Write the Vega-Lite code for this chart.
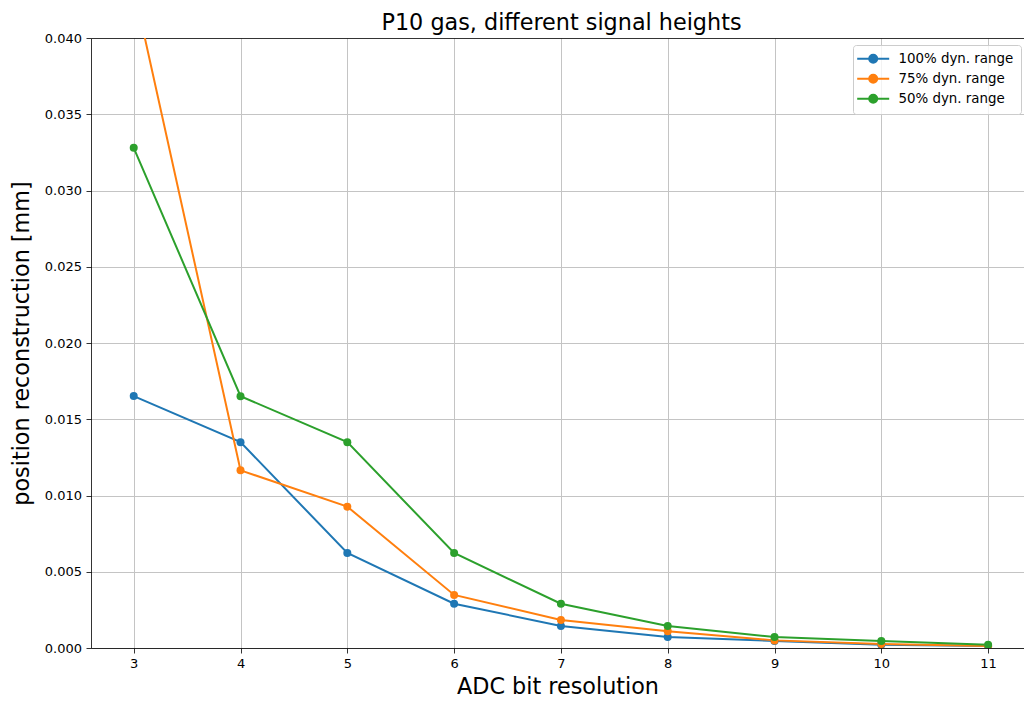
{
  "$schema": "https://vega.github.io/schema/vega-lite/v6.json",
  "width": 933,
  "height": 610,
  "autosize": {"type": "none"},
  "padding": {"left": 91, "top": 38, "right": 0, "bottom": 54},
  "background": "white",
  "config": {
    "font": "DejaVu Sans",
    "view": {"stroke": null},
    "axis": {
      "labelFont": "DejaVu Sans",
      "labelFontSize": 13,
      "labelColor": "black",
      "titleFont": "DejaVu Sans",
      "titleFontSize": 22.3,
      "titleFontWeight": "normal",
      "titleColor": "black",
      "domainColor": "black",
      "domainWidth": 0.8,
      "tickColor": "black",
      "tickWidth": 0.8,
      "tickSize": 5,
      "labelPadding": 4.5,
      "gridColor": "#c4c4c4",
      "gridWidth": 1
    }
  },
  "title": {
    "text": "P10 gas, different signal heights",
    "fontSize": 22.3,
    "fontWeight": "normal",
    "font": "DejaVu Sans",
    "color": "black",
    "baseline": "alphabetic",
    "offset": -20,
    "dx": 4
  },
  "data": {
    "values": [
      {"bits": 3, "series": "100% dyn. range", "value": 0.01652},
      {"bits": 4, "series": "100% dyn. range", "value": 0.01350},
      {"bits": 5, "series": "100% dyn. range", "value": 0.00623},
      {"bits": 6, "series": "100% dyn. range", "value": 0.00290},
      {"bits": 7, "series": "100% dyn. range", "value": 0.00145},
      {"bits": 8, "series": "100% dyn. range", "value": 0.00072},
      {"bits": 9, "series": "100% dyn. range", "value": 0.00046},
      {"bits": 10, "series": "100% dyn. range", "value": 0.00021},
      {"bits": 11, "series": "100% dyn. range", "value": 0.00013},
      {"bits": 3, "series": "75% dyn. range", "value": 0.04330},
      {"bits": 4, "series": "75% dyn. range", "value": 0.01165},
      {"bits": 5, "series": "75% dyn. range", "value": 0.00927},
      {"bits": 6, "series": "75% dyn. range", "value": 0.00348},
      {"bits": 7, "series": "75% dyn. range", "value": 0.00184},
      {"bits": 8, "series": "75% dyn. range", "value": 0.00110},
      {"bits": 9, "series": "75% dyn. range", "value": 0.00050},
      {"bits": 10, "series": "75% dyn. range", "value": 0.00026},
      {"bits": 11, "series": "75% dyn. range", "value": 0.00013},
      {"bits": 3, "series": "50% dyn. range", "value": 0.03280},
      {"bits": 4, "series": "50% dyn. range", "value": 0.01651},
      {"bits": 5, "series": "50% dyn. range", "value": 0.01350},
      {"bits": 6, "series": "50% dyn. range", "value": 0.00623},
      {"bits": 7, "series": "50% dyn. range", "value": 0.00290},
      {"bits": 8, "series": "50% dyn. range", "value": 0.00145},
      {"bits": 9, "series": "50% dyn. range", "value": 0.00072},
      {"bits": 10, "series": "50% dyn. range", "value": 0.00046},
      {"bits": 11, "series": "50% dyn. range", "value": 0.00021}
    ]
  },
  "encoding": {
    "x": {
      "field": "bits",
      "type": "quantitative",
      "scale": {"domain": [2.6, 11.336], "nice": false, "zero": false},
      "axis": {
        "title": "ADC bit resolution",
        "values": [3, 4, 5, 6, 7, 8, 9, 10, 11],
        "format": "d",
        "titlePadding": 5
      }
    },
    "y": {
      "field": "value",
      "type": "quantitative",
      "scale": {"domain": [0, 0.04], "nice": false},
      "axis": {
        "title": "position reconstruction [mm]",
        "values": [0, 0.005, 0.01, 0.015, 0.02, 0.025, 0.03, 0.035, 0.04],
        "format": ".3f",
        "titlePadding": 11,
        "gridColor": {"condition": {"test": "datum.value >= 0.0399", "value": "black"}, "value": "#c4c4c4"},
        "gridWidth": {"condition": {"test": "datum.value >= 0.0399", "value": 0.8}, "value": 1}
      }
    },
    "color": {
      "field": "series",
      "type": "nominal",
      "sort": ["100% dyn. range", "75% dyn. range", "50% dyn. range"],
      "scale": {
        "domain": ["100% dyn. range", "75% dyn. range", "50% dyn. range"],
        "range": ["#1f77b4", "#ff7f0e", "#2ca02c"]
      },
      "legend": {
        "orient": "none",
        "legendX": 762,
        "legendY": 7,
        "title": null,
        "symbolType": "M-2.375,0L5.625,0M0.625,0A1,1 0 1,0 2.625,0A1,1 0 1,0 0.625,0",
        "symbolSize": 64,
        "symbolStrokeWidth": 2,
        "labelFont": "DejaVu Sans",
        "labelFontSize": 13.4,
        "labelColor": "black",
        "labelOffset": 25,
        "padding": 7,
        "rowPadding": 3,
        "fillColor": "rgba(255,255,255,0.8)",
        "strokeColor": "#cccccc",
        "cornerRadius": 3,
        "encode": {
          "symbols": {
            "update": {
              "fill": {"scale": "color", "field": "value"},
              "stroke": {"scale": "color", "field": "value"},
              "opacity": {"value": 1}
            }
          }
        }
      }
    }
  },
  "layer": [
    {"mark": {"type": "line", "strokeWidth": 2, "clip": true}},
    {"mark": {"type": "point", "filled": true, "size": 64, "opacity": 1, "clip": true}}
  ]
}
